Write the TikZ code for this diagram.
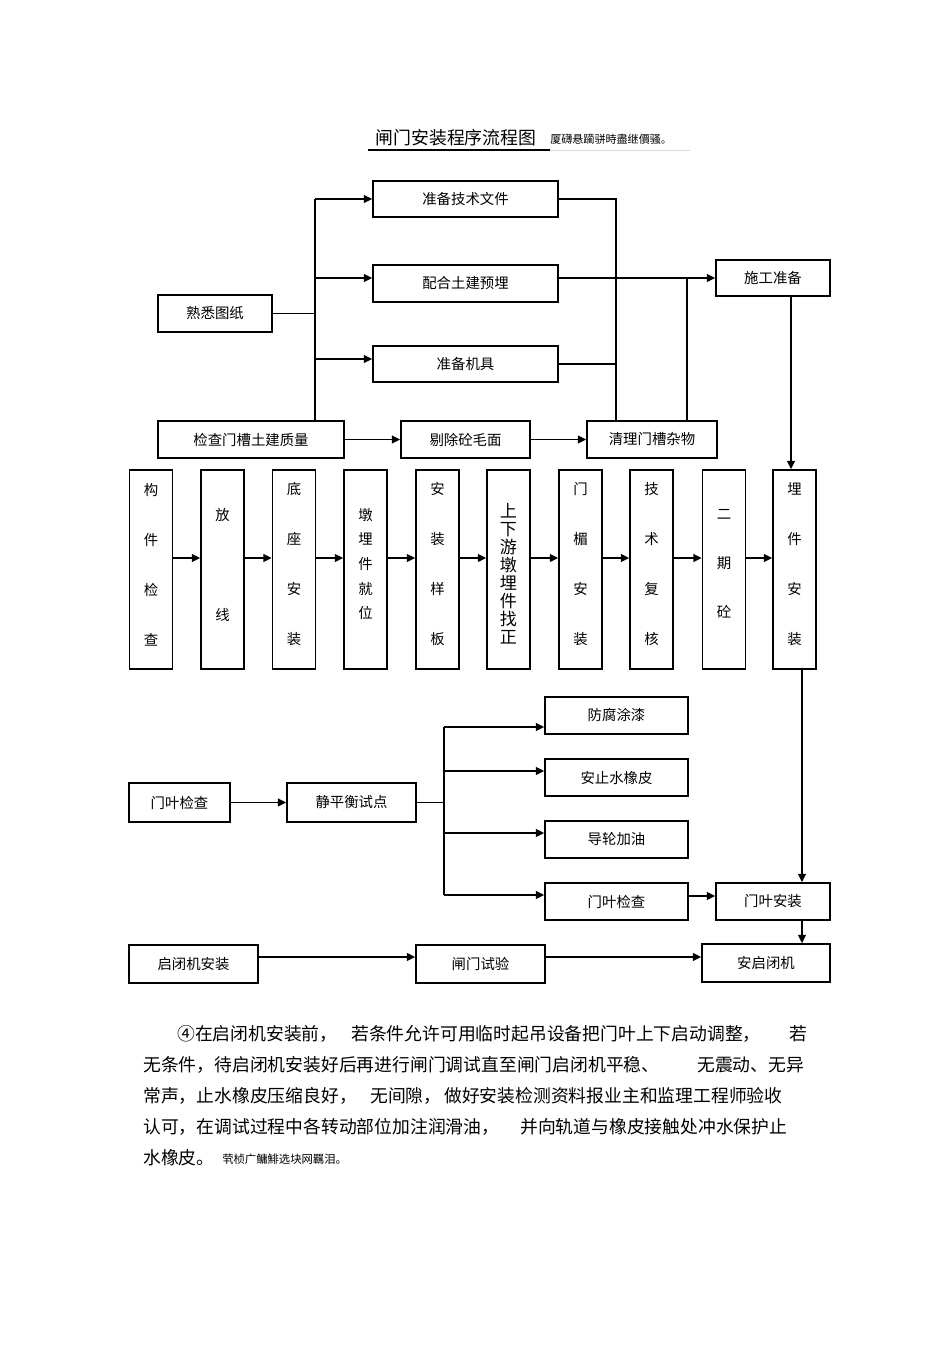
\documentclass[tikz,border=0pt]{standalone}
\usepackage{fontspec}
\newfontfamily\cjk{Noto Sans CJK SC}
\usetikzlibrary{arrows.meta}
\begin{document}
\begin{tikzpicture}[x=0.75pt,y=-0.75pt,
  box/.style={draw, line width=1.4pt, inner sep=0pt, font=\cjk\fontsize{10.8pt}{13pt}\selectfont},
  sz/.style 2 args={minimum width=#1*0.75pt, minimum height=#2*0.75pt},
  col/.style={draw, line width=1.4pt, inner sep=0pt, minimum width=43*0.75pt, minimum height=199*0.75pt},
  ct/.style={inner sep=0pt, align=center},
  ln/.style={line width=1.1pt},
  arr/.style={line width=1.1pt, -{Triangle[length=6.2pt,width=6pt]}},
  ptxt/.style={inner sep=0pt, anchor=west, font=\cjk\fontsize{13.35pt}{15pt}\selectfont}
]
\useasboundingbox (0,0) rectangle (950,1345);
\fill[white] (0,0) rectangle (950,1345);

% title
\node[inner sep=0pt, font=\cjk\fontsize{13.4pt}{16pt}\selectfont] (title) at (456,138) {闸门安装程序流程图};
\node[inner sep=0pt, anchor=west, font=\cjk\fontsize{8.3pt}{10pt}\selectfont] (sub) at (550,139) {厦礴悬躏骈時盡继價骚。};
\draw[line width=1.5pt] (368,150) -- (550,150);
\draw[black!15, line width=0.5pt] (550,150) -- (690,150);

% top boxes
\node[box, sz={114}{37}] (ssz) at (215,313.5) {熟悉图纸};
\node[box, sz={185}{36}] (zbjs) at (465.5,199) {准备技术文件};
\node[box, sz={185}{37}] (phtj) at (465.5,283.5) {配合土建预埋};
\node[box, sz={185}{36}] (zbjj) at (465.5,364) {准备机具};
\node[box, sz={114}{36}] (sgzb) at (773,278) {施工准备};
\node[box, sz={186}{37}] (jcmc) at (251,439.5) {检查门槽土建质量};
\node[box, sz={129}{37}] (tcm) at (465.5,439.5) {剔除砼毛面};
\node[box, sz={130}{37}] (qlmc) at (652,439.5) {清理门槽杂物};

% columns
\foreach \n/\x in {c1/151,c2/222.5,c3/294,c4/365.5,c5/437.5,c6/508.5,c7/580.5,c8/651.5,c9/724,c10/794.5}
  \node[col] (\n) at (\x,569.5) {};

\node[ct, font=\cjk\fontsize{10.8pt}{37.5pt}\selectfont] (t1) at (c1 |- 0,564.5) {构\\件\\检\\查};
\node[ct, font=\cjk\fontsize{10.8pt}{75pt}\selectfont] (t2) at (c2 |- 0,564.5) {放\\线};
\node[ct, font=\cjk\fontsize{10.8pt}{37.5pt}\selectfont] (t3) at (c3 |- 0,564.5) {底\\座\\安\\装};
\node[ct, font=\cjk\fontsize{10.8pt}{18.4pt}\selectfont] (t4) at (c4 |- 0,564) {墩\\埋\\件\\就\\位};
\node[ct, font=\cjk\fontsize{10.8pt}{37.5pt}\selectfont] (t5) at (c5 |- 0,564.5) {安\\装\\样\\板};
\node[ct, font=\cjk\fontsize{12.8pt}{13.5pt}\selectfont] (t6) at (c6 |- 0,574) {上\\下\\游\\墩\\埋\\件\\找\\正};
\node[ct, font=\cjk\fontsize{10.8pt}{37.5pt}\selectfont] (t7) at (c7 |- 0,564.5) {门\\楣\\安\\装};
\node[ct, font=\cjk\fontsize{10.8pt}{37.5pt}\selectfont] (t8) at (c8 |- 0,564.5) {技\\术\\复\\核};
\node[ct, font=\cjk\fontsize{10.8pt}{36.9pt}\selectfont] (t9) at (c9 |- 0,564) {二\\期\\砼};
\node[ct, font=\cjk\fontsize{10.8pt}{37.5pt}\selectfont] (t10) at (c10 |- 0,564.5) {埋\\件\\安\\装};

% bottom boxes
\node[box, sz={101}{39}] (myjc1) at (179.5,802.5) {门叶检查};
\node[box, sz={129}{39}] (jphs) at (351.5,802.5) {静平衡试点};
\node[box, sz={143}{37}] (fftq) at (616.5,715.5) {防腐涂漆};
\node[box, sz={143}{37}] (azxs) at (616.5,777.5) {安止水橡皮};
\node[box, sz={143}{37}] (dljy) at (616.5,839.5) {导轮加油};
\node[box, sz={143}{37}] (myjc2) at (616.5,901.5) {门叶检查};
\node[box, sz={114}{37}] (myaz) at (773,901.5) {门叶安装};
\node[box, sz={129}{38}] (qbjaz) at (193.5,964) {启闭机安装};
\node[box, sz={129}{38}] (zmsy) at (480.5,964) {闸门试验};
\node[box, sz={128}{38}] (aqbj) at (766,963) {安启闭机};

% top connectors
\coordinate (trT) at (315,199);
\coordinate (p1) at (phtj.east |- sgzb.west);
\coordinate (a3) at (315,359);
\coordinate (r1) at (616,199);
\coordinate (r2) at (687,278);
\coordinate (d1) at (791,300);
\draw[ln] (trT) -- (trT |- jcmc.north);
\draw[ln] (ssz.east) -- (ssz.east -| trT);
\draw[arr] (trT) -- (zbjs.west);
\draw[arr] (trT |- p1) -- (p1 -| phtj.west);
\draw[arr] (a3) -- (a3 -| zbjj.west);
\draw[ln] (zbjs.east) -- (r1) -- (r1 |- qlmc.north);
\draw[ln] (zbjj.east) -- (zbjj.east -| r1);
\draw[arr] (p1) -- (sgzb.west);
\draw[ln] (r2) -- (r2 |- qlmc.north);
\draw[arr] (jcmc.east) -- (tcm.west);
\draw[arr] (tcm.east) -- (qlmc.west);
\draw[arr] (d1 |- sgzb.south) -- (d1 |- c10.north);

% column arrows
\coordinate (ay) at (0,558);
\foreach \a/\b in {c1/c2,c2/c3,c3/c4,c4/c5,c5/c6,c6/c7,c7/c8,c8/c9,c9/c10}
  \draw[arr] (\a.east |- ay) -- (\b.west |- ay);

% bottom connectors
\coordinate (b1) at (444,727);
\coordinate (b2) at (444,771);
\coordinate (b3) at (444,833);
\coordinate (b4) at (444,895);
\coordinate (d2) at (802,700);
\coordinate (e1) at (0,896);
\coordinate (e2) at (0,957);
\draw[arr] (myjc1.east) -- (jphs.west);
\draw[ln] (jphs.east) -- (jphs.east -| b1);
\draw[ln] (b1) -- (b4);
\draw[arr] (b1) -- (b1 -| fftq.west);
\draw[arr] (b2) -- (b2 -| azxs.west);
\draw[arr] (b3) -- (b3 -| dljy.west);
\draw[arr] (b4) -- (b4 -| myjc2.west);
\draw[arr] (myjc2.east |- e1) -- (myaz.west |- e1);
\draw[arr] (d2 |- c10.south) -- (d2 |- myaz.north);
\draw[arr] (d2 |- myaz.south) -- (d2 |- aqbj.north);
\draw[arr] (qbjaz.east |- e2) -- (zmsy.west |- e2);
\draw[arr] (zmsy.east |- e2) -- (aqbj.west |- e2);

% paragraph
\node[ptxt] (l1a) at (177,1034) {④在启闭机安装前，};
\node[ptxt] (l1b) at (351,1034) {若条件允许可用临时起吊设备把门叶上下启动调整，};
\node[ptxt] (l1c) at (789,1034) {若};
\node[ptxt] (l2a) at (143,1065) {无条件，待启闭机安装好后再进行闸门调试直至闸门启闭机平稳、};
\node[ptxt] (l2b) at (697,1065) {无震动、无异};
\node[ptxt] (l3a) at (143,1096) {常声，止水橡皮压缩良好，};
\node[ptxt] (l3b) at (370,1096) {无间隙，};
\node[ptxt] (l3c) at (444,1096) {做好安装检测资料报业主和监理工程师验收};
\node[ptxt] (l4a) at (143,1127) {认可，在调试过程中各转动部位加注润滑油，};
\node[ptxt] (l4b) at (520,1127) {并向轨道与橡皮接触处冲水保护止};
\node[ptxt] (l5a) at (143,1158) {水橡皮。};
\node[inner sep=0pt, anchor=west, font=\cjk\fontsize{8.5pt}{10pt}\selectfont] (l5b) at (222,1159) {茕桢广鳙鯡选块网羈泪。};
\end{tikzpicture}
\end{document}
